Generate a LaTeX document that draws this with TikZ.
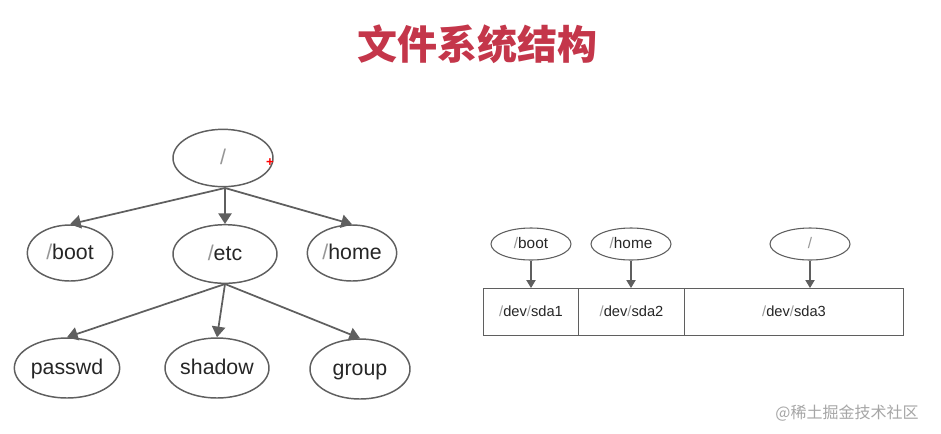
\documentclass[tikz,border=0pt]{standalone}
\usepackage{fontspec}
\setmainfont{Liberation Sans}
\newfontfamily\cjk{Noto Sans CJK SC}
\usetikzlibrary{arrows.meta,shapes.geometric}
\definecolor{titlered}{RGB}{196,54,74}
\definecolor{linegray}{RGB}{95,95,95}
\definecolor{slashgray}{RGB}{150,150,150}
\newcommand{\slh}{{\color{slashgray}/}}
\begin{document}
\begin{tikzpicture}[x=0.75pt,y=-0.75pt,
  bignode/.style={draw=linegray,line width=1.1pt,ellipse,inner sep=0pt,font=\fontsize{16}{18}\selectfont,text=black!85,text height=12pt,text depth=3pt},
  smallnode/.style={draw=linegray,line width=0.8pt,ellipse,inner sep=0pt,minimum width=60pt,minimum height=24pt,font=\fontsize{11.5}{13}\selectfont,text=black!85,text height=8.5pt,text depth=2pt},
  conn/.style={draw=linegray,line width=1.3pt,-{Triangle[length=8pt,width=10pt]}},
  sconn/.style={draw=linegray,line width=0.8pt,-{Triangle[length=6pt,width=7pt]}},
  cell/.style={draw=linegray,line width=0.8pt,inner sep=0pt,font=\fontsize{11}{13}\selectfont,text=black!85,text height=8pt,text depth=2pt}]
\useasboundingbox (0,0) rectangle (941,433);
\fill[white] (0,0) rectangle (941,433);
\node[font=\cjk\bfseries\fontsize{30}{32}\selectfont,text=titlered] (title) at (477,44) {文件系统结构};
% left tree
\node[bignode,minimum width=75pt,minimum height=43pt] (root) at (223,158) {\slh};
\node[text=red,font=\fontsize{10}{10}\selectfont\bfseries] (plus) at (270,163) {+};
\node[bignode,minimum width=64pt,minimum height=42pt] (boot) at (70,253) {\slh boot};
\node[bignode,minimum width=78pt,minimum height=44pt] (etc) at (225,254) {\slh etc};
\node[bignode,minimum width=67pt,minimum height=42pt] (home) at (352,253) {\slh home};
\node[bignode,minimum width=79pt,minimum height=45pt] (passwd) at (67,368) {passwd};
\node[bignode,minimum width=78pt,minimum height=45pt] (shadow) at (217,368) {shadow};
\node[bignode,minimum width=75pt,minimum height=45pt] (group) at (360,369) {group};
\coordinate (rb) at (225,188);
\coordinate (eb) at (225,284);
\draw[conn] (rb) -- (boot.north);
\draw[conn] (rb) -- (etc.north);
\draw[conn] (rb) -- (home.north);
\draw[conn] (eb) -- (passwd.north);
\draw[conn] (eb) -- (shadow.north);
\draw[conn] (eb) -- (group.north);
% right diagram
\node[cell,minimum width=71.25pt,minimum height=35.25pt,anchor=north west] (sda1) at (483,288) {\slh dev\slh sda1};
\node[cell,minimum width=79.5pt,minimum height=35.25pt,anchor=north west] (sda2) at (578,288) {\slh dev\slh sda2};
\node[cell,minimum width=164.25pt,minimum height=35.25pt,anchor=north west] (sda3) at (684,288) {\slh dev\slh sda3};
\node[smallnode] (sboot) at (531,244) {\slh boot};
\node[smallnode] (shome) at (631,244) {\slh home};
\node[smallnode] (sroot) at (810,244) {\slh};
\draw[sconn] (sboot.south) -- (sboot.south |- sda1.north);
\draw[sconn] (shome.south) -- (shome.south |- sda2.north);
\draw[sconn] (sroot.south) -- (sroot.south |- sda3.north);
\node[font=\cjk\fontsize{12}{14}\selectfont,text=black!35] (wm) at (847,413) {@稀土掘金技术社区};
\end{tikzpicture}
\end{document}
